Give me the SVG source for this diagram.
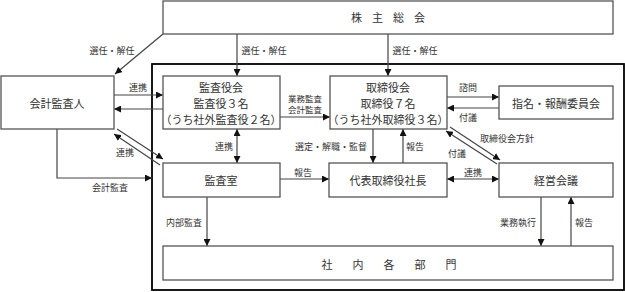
<svg xmlns="http://www.w3.org/2000/svg" width="625" height="292" viewBox="0 0 625 292">
<style>
.box{fill:#fff;stroke:#555;stroke-width:1.3}
.frame{fill:none;stroke:#000;stroke-width:1.8}
.ln{fill:none;stroke:#444;stroke-width:1.2}
text{font-family:"Noto Sans CJK JP","Noto Sans",sans-serif;fill:#333;text-anchor:middle;dominant-baseline:central}
.bt{font-size:11px}
.lb{font-size:9px}
.sm{font-size:8.5px}
</style>
<defs>
<marker id="ah" viewBox="0 0 10 10" refX="10" refY="5" markerWidth="7" markerHeight="7" markerUnits="userSpaceOnUse" orient="auto-start-reverse">
<path d="M0,0 L10,5 L0,10 z" fill="#111"/>
</marker>
</defs>
<rect class="frame" x="152" y="64" width="472" height="226"/>
<g id="connectors">
<line class="ln" x1="163" y1="34" x2="115" y2="74" marker-end="url(#ah)"/>
<line class="ln" x1="237" y1="34" x2="237" y2="76" marker-end="url(#ah)"/>
<line class="ln" x1="388" y1="34" x2="388" y2="76" marker-end="url(#ah)"/>
<line class="ln" x1="114" y1="95" x2="163" y2="95" marker-end="url(#ah)"/>
<line class="ln" x1="163" y1="109" x2="114" y2="109" marker-end="url(#ah)"/>
<line class="ln" x1="280" y1="117" x2="330" y2="117" marker-end="url(#ah)"/>
<line class="ln" x1="447" y1="97" x2="499" y2="97" marker-end="url(#ah)"/>
<line class="ln" x1="499" y1="108" x2="447" y2="108" marker-end="url(#ah)"/>
<line class="ln" x1="237" y1="129" x2="237" y2="163" marker-start="url(#ah)" marker-end="url(#ah)"/>
<line class="ln" x1="117" y1="129" x2="163" y2="159" marker-end="url(#ah)"/>
<line class="ln" x1="160" y1="165" x2="114" y2="134" marker-end="url(#ah)"/>
<polyline class="ln" points="57,129 57,178 152,178" marker-end="url(#ah)"/>
<line class="ln" x1="280" y1="179" x2="329" y2="179" marker-end="url(#ah)"/>
<line class="ln" x1="207" y1="197" x2="207" y2="246" marker-end="url(#ah)"/>
<line class="ln" x1="373" y1="129" x2="373" y2="163" marker-end="url(#ah)"/>
<line class="ln" x1="403" y1="163" x2="403" y2="129" marker-end="url(#ah)"/>
<line class="ln" x1="450" y1="127" x2="500" y2="160" marker-end="url(#ah)"/>
<line class="ln" x1="497" y1="164" x2="446" y2="131" marker-end="url(#ah)"/>
<line class="ln" x1="447" y1="179" x2="499" y2="179" marker-start="url(#ah)" marker-end="url(#ah)"/>
<line class="ln" x1="541" y1="197" x2="541" y2="246" marker-end="url(#ah)"/>
<line class="ln" x1="571" y1="246" x2="571" y2="197" marker-end="url(#ah)"/>
</g>
<g id="labels">
<text class="lb" x="112" y="50">選任・解任</text>
<text class="lb" x="264" y="50">選任・解任</text>
<text class="lb" x="415" y="50">選任・解任</text>
<text class="lb" x="138" y="87">連携</text>
<text class="sm" x="305" y="98">業務監査</text>
<text class="sm" x="305" y="109">会計監査</text>
<text class="lb" x="468" y="87">諮問</text>
<text class="lb" x="468" y="117">付議</text>
<text class="lb" x="224" y="146">連携</text>
<text class="lb" x="125" y="152">連携</text>
<text class="lb" x="331" y="146">選定・解職・監督</text>
<text class="lb" x="415" y="146">報告</text>
<text class="lb" x="507" y="138">取締役会方針</text>
<text class="lb" x="457" y="153">付議</text>
<text class="lb" x="303" y="172">報告</text>
<text class="lb" x="473" y="172">連携</text>
<text class="lb" x="110" y="187">会計監査</text>
<text class="lb" x="184" y="222">内部監査</text>
<text class="lb" x="518" y="222">業務執行</text>
<text class="lb" x="584" y="222">報告</text>
</g>
<g id="shareholders">
<rect class="box" x="163" y="1" width="450" height="33"/>
<text class="bt" x="393" y="17" letter-spacing="10">株主総会</text>
</g>
<g id="auditor">
<rect class="box" x="1" y="76" width="113" height="53"/>
<text class="bt" x="57" y="103">会計監査人</text>
</g>
<g id="audit-board">
<rect class="box" x="163" y="76" width="117" height="53"/>
<text class="bt" x="221" y="87">監査役会</text>
<text class="bt" x="221" y="103">監査役３名</text>
<text class="bt" x="221" y="119">（うち社外監査役２名）</text>
</g>
<g id="board">
<rect class="box" x="330" y="76" width="117" height="53"/>
<text class="bt" x="388" y="87">取締役会</text>
<text class="bt" x="388" y="103">取締役７名</text>
<text class="bt" x="388" y="119">（うち社外取締役３名）</text>
</g>
<g id="committee">
<rect class="box" x="499" y="86" width="114" height="33"/>
<text class="bt" x="556" y="103">指名・報酬委員会</text>
</g>
<g id="audit-office">
<rect class="box" x="163" y="163" width="117" height="34"/>
<text class="bt" x="221" y="180">監査室</text>
</g>
<g id="president">
<rect class="box" x="329" y="163" width="118" height="34"/>
<text class="bt" x="388" y="180">代表取締役社長</text>
</g>
<g id="management">
<rect class="box" x="499" y="163" width="114" height="34"/>
<text class="bt" x="556" y="180">経営会議</text>
</g>
<g id="departments">
<rect class="box" x="163" y="246" width="450" height="34"/>
<text class="bt" x="399" y="264" letter-spacing="20">社内各部門</text>
</g>
</svg>
